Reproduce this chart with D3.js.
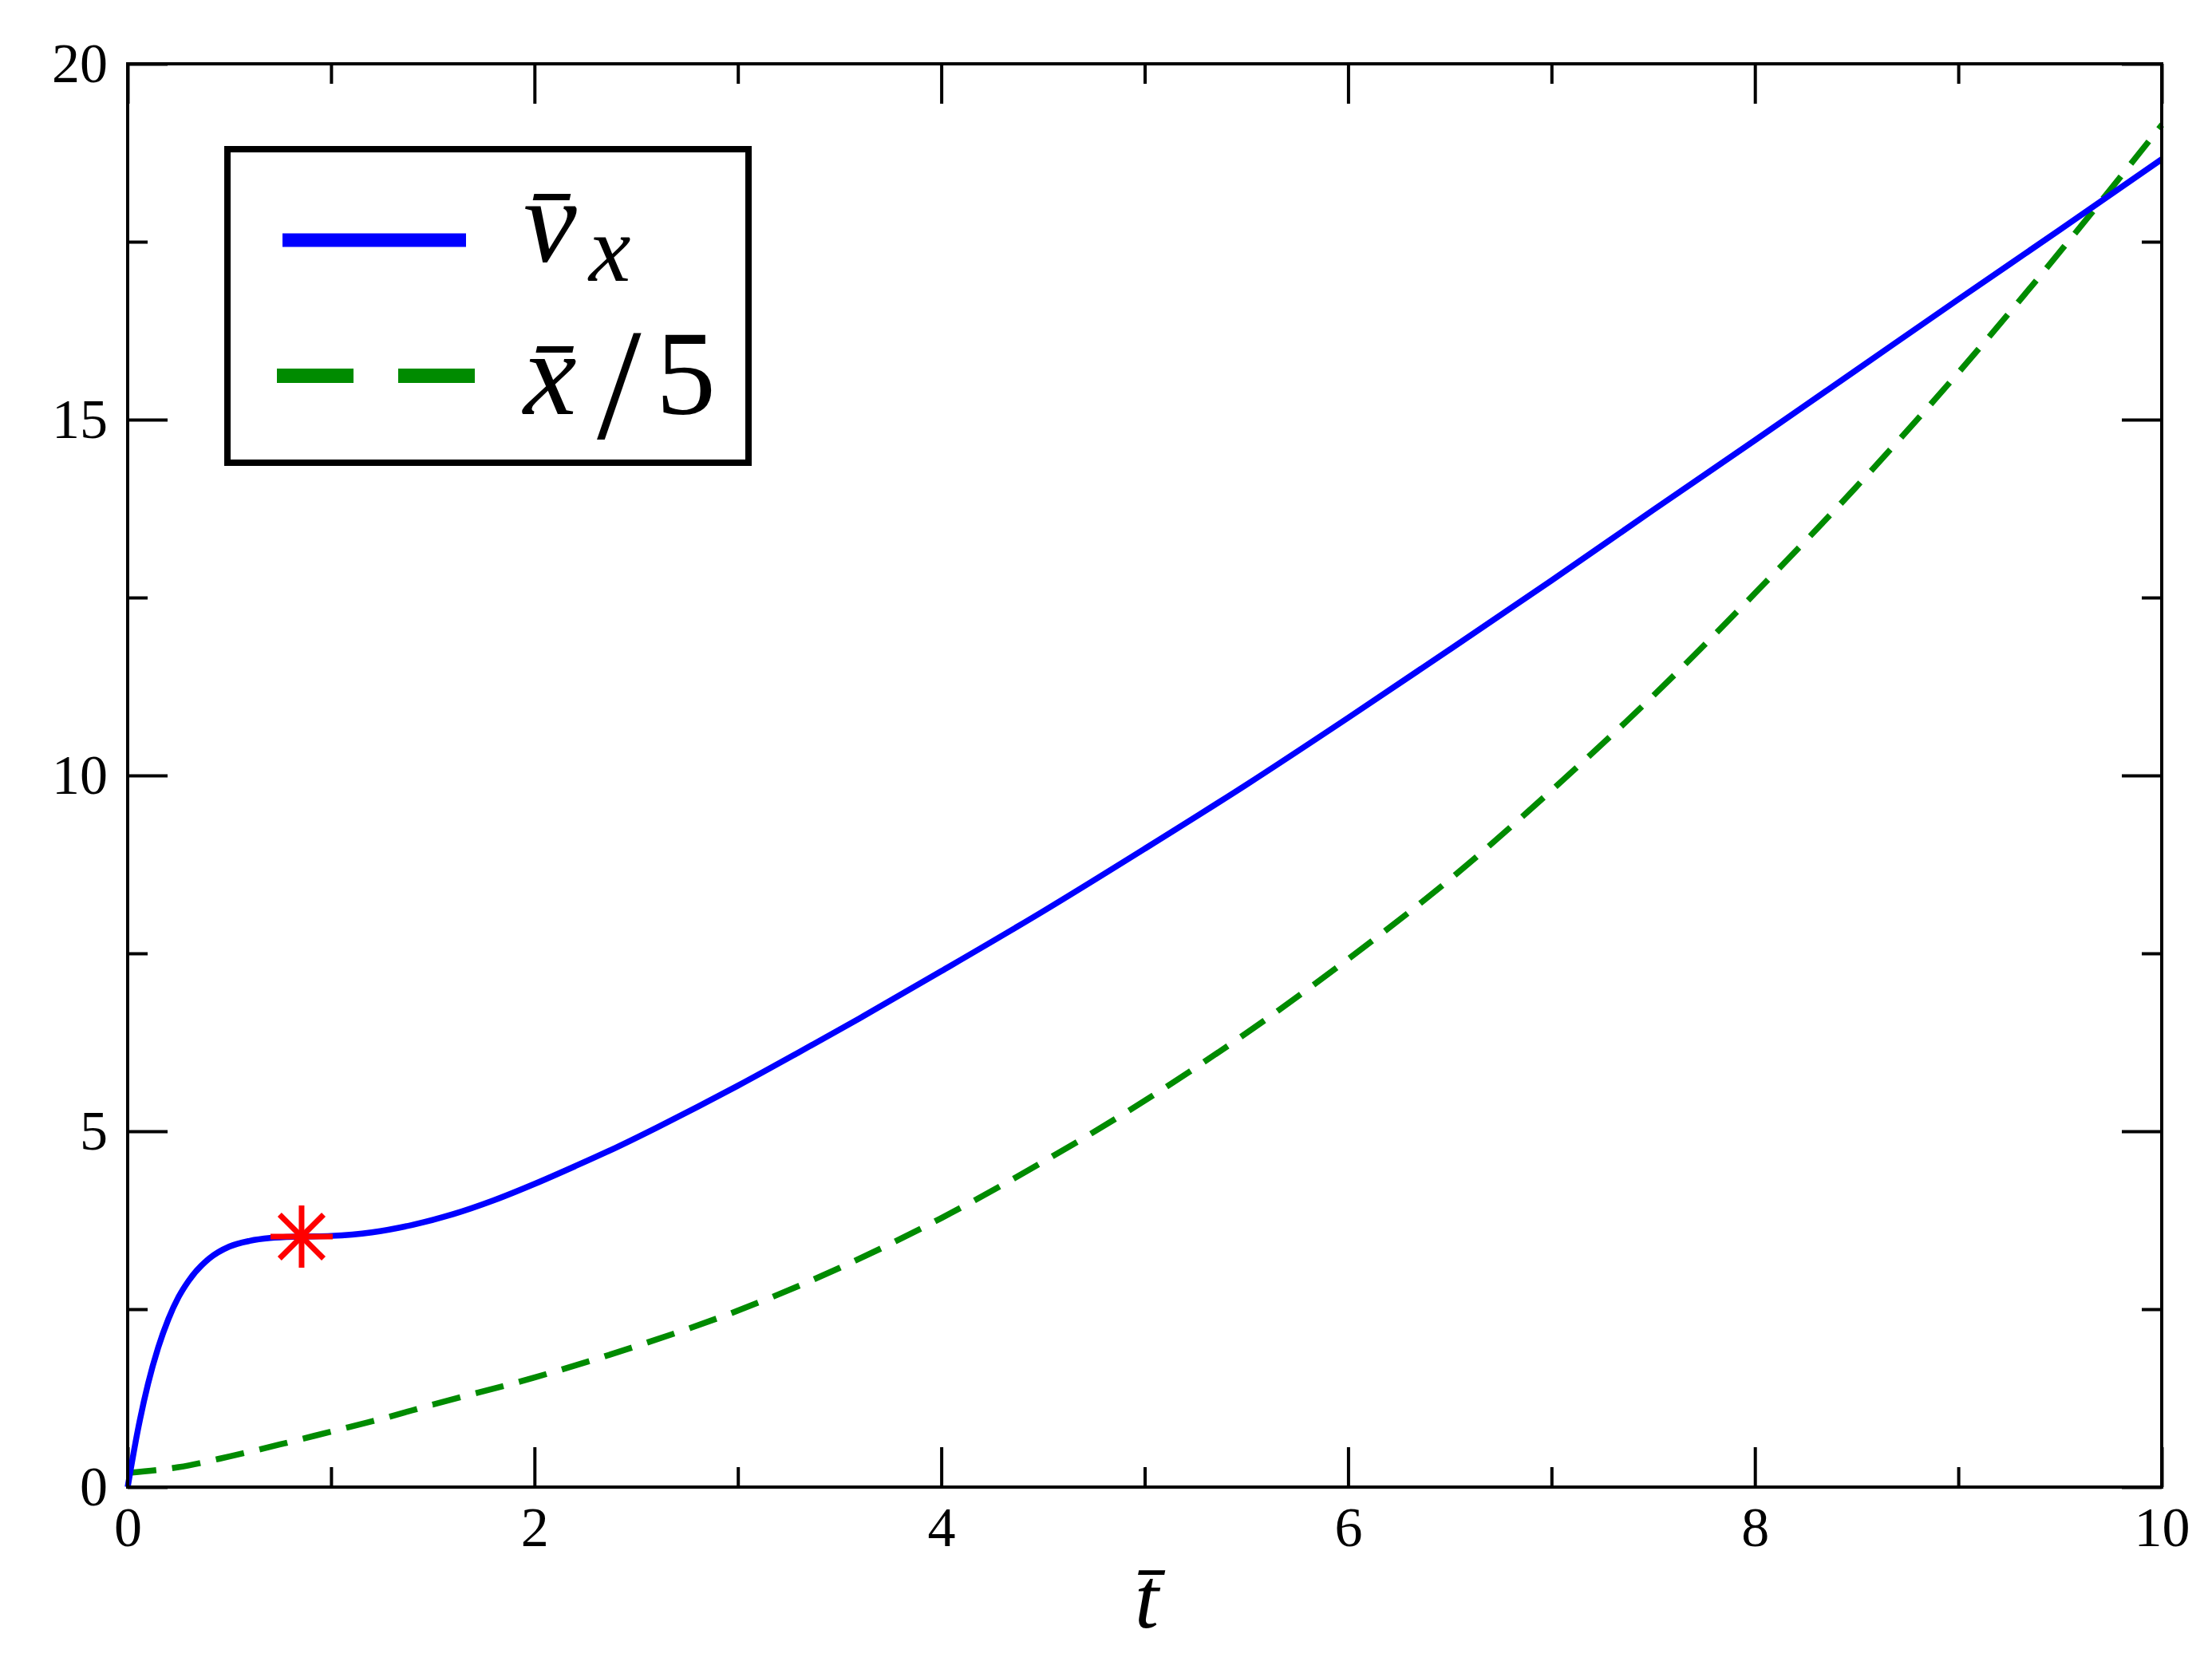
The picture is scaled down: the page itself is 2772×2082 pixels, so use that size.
<!DOCTYPE html>
<html>
<head>
<meta charset="utf-8">
<script src="https://cdn.jsdelivr.net/npm/d3@7"></script>
<style>
  html, body { margin: 0; padding: 0; background: #fff; }
  svg { display: block; }
  text { font-family: "Liberation Serif", "Times New Roman", serif; }
</style>
</head>
<body>
<svg id="chart" width="2772" height="2082"></svg>
<script>
// ---- data ----
const tVx = [0,0.05,0.1,0.15,0.2,0.25,0.3,0.4,0.5,0.6,0.7,0.85,1.0,1.2,1.4,1.6,1.8,2.0,2.2,2.4,2.6,2.8,3.0,3.3,3.6,4.0,4.5,5.0,5.5,6.0,6.5,7.0,7.5,8.0,8.5,9.0,9.5,10];
const vx  = [0,0.80,1.45,1.96,2.36,2.67,2.90,3.21,3.38,3.46,3.50,3.52,3.53,3.58,3.685,3.835,4.03,4.26,4.51,4.77,5.05,5.34,5.64,6.11,6.59,7.25,8.09,8.97,9.87,10.81,11.77,12.74,13.73,14.71,15.70,16.69,17.67,18.66];
const tX  = [0,0.25,0.5,0.75,1.0,1.25,1.5,2.0,2.5,3.0,3.5,4.0,4.5,5.0,5.5,6.0,6.5,7.0,7.5,8.0,8.5,9.0,9.5,10];
const xOver5 = [0.20,0.28,0.43,0.60,0.78,0.96,1.16,1.54,1.98,2.48,3.08,3.78,4.57,5.43,6.38,7.42,8.54,9.79,11.12,12.56,14.06,15.66,17.36,19.14];
const markerT = [0.855];
const markerV = [3.52];
const xMajorTicks = [0,2,4,6,8,10];
const xMinorTicks = [1,3,5,7,9];
const yMajorTicks = [0,5,10,15,20];
const yMinorTicks = [2.5,7.5,12.5,17.5];
const legendLabels = ["v\u0304", "x", "x\u0304", "/", "5"];
const xLabel = "t\u0304";

// ---- layout ----
const L = 160, R = 2709, T = 80, B = 1864;
const svg = d3.select("#chart");
const x = d3.scaleLinear().domain([0,10]).range([L,R]);
const y = d3.scaleLinear().domain([0,20]).range([B,T]);

const fs = 70;
function styleAxis(g){
  g.select(".domain").remove();
  g.selectAll(".tick line").attr("stroke","#000").attr("stroke-width",4);
  g.selectAll(".tick text").attr("font-family","Liberation Serif").attr("font-size",fs).attr("fill","#000");
}
// bottom
svg.append("g").attr("transform",`translate(0,${B})`)
  .call(d3.axisBottom(x).tickValues(xMajorTicks).tickSize(-50).tickSizeOuter(0).tickPadding(24).tickFormat(d3.format("d")))
  .call(styleAxis);
svg.append("g").attr("transform",`translate(0,${B})`)
  .call(d3.axisBottom(x).tickValues(xMinorTicks).tickSize(-25).tickSizeOuter(0).tickFormat(""))
  .call(styleAxis);
// top
svg.append("g").attr("transform",`translate(0,${T})`)
  .call(d3.axisTop(x).tickValues(xMajorTicks).tickSize(-50).tickSizeOuter(0).tickFormat(""))
  .call(styleAxis);
svg.append("g").attr("transform",`translate(0,${T})`)
  .call(d3.axisTop(x).tickValues(xMinorTicks).tickSize(-25).tickSizeOuter(0).tickFormat(""))
  .call(styleAxis);
// left
svg.append("g").attr("transform",`translate(${L},0)`)
  .call(d3.axisLeft(y).tickValues(yMajorTicks).tickSize(-50).tickSizeOuter(0).tickPadding(25).tickFormat(d3.format("d")))
  .call(styleAxis);
svg.append("g").attr("transform",`translate(${L},0)`)
  .call(d3.axisLeft(y).tickValues(yMinorTicks).tickSize(-25).tickSizeOuter(0).tickFormat(""))
  .call(styleAxis);
// right
svg.append("g").attr("transform",`translate(${R},0)`)
  .call(d3.axisRight(y).tickValues(yMajorTicks).tickSize(-50).tickSizeOuter(0).tickFormat(""))
  .call(styleAxis);
svg.append("g").attr("transform",`translate(${R},0)`)
  .call(d3.axisRight(y).tickValues(yMinorTicks).tickSize(-25).tickSizeOuter(0).tickFormat(""))
  .call(styleAxis);

// curves
const lineV = d3.line().x((d,i)=>x(tVx[i])).y(d=>y(d)).curve(d3.curveMonotoneX);
const lineX = d3.line().x((d,i)=>x(tX[i])).y(d=>y(d)).curve(d3.curveMonotoneX);
svg.append("path").datum(xOver5).attr("d",lineX)
  .attr("fill","none").attr("stroke","#008b00").attr("stroke-width",7.5)
  .attr("stroke-dasharray","36,20");
svg.append("path").datum(vx).attr("d",lineV)
  .attr("fill","none").attr("stroke","#0000ff").attr("stroke-width",7.5);

// frame
svg.append("rect").attr("x",L).attr("y",T).attr("width",R-L).attr("height",B-T)
  .attr("fill","none").attr("stroke","#000").attr("stroke-width",4);

// star marker
const star = svg.append("g");
markerT.forEach((t,i)=>{
  const cx = x(t), cy = y(markerV[i]), r = 39;
  for (let k=0;k<4;k++){
    const a = k*Math.PI/4;
    star.append("line")
      .attr("x1",cx - r*Math.cos(a)).attr("y1",cy - r*Math.sin(a))
      .attr("x2",cx + r*Math.cos(a)).attr("y2",cy + r*Math.sin(a))
      .attr("stroke","#ff0000").attr("stroke-width",7);
  }
});

// legend
const lg = svg.append("g");
lg.append("rect").attr("x",285).attr("y",187).attr("width",653).attr("height",393)
  .attr("fill","#fff").attr("stroke","#000").attr("stroke-width",8);
lg.append("line").attr("x1",354).attr("x2",584).attr("y1",301).attr("y2",301)
  .attr("stroke","#0000ff").attr("stroke-width",17);
lg.append("line").attr("x1",347).attr("x2",596).attr("y1",471).attr("y2",471)
  .attr("stroke","#008b00").attr("stroke-width",18).attr("stroke-dasharray","96,56");
const t1 = lg.append("text").attr("x",656).attr("y",328).attr("font-size",150).attr("font-style","italic");
t1.append("tspan").text(legendLabels[0]);
t1.append("tspan").attr("x",738).attr("dy",24).attr("font-size",118).text(legendLabels[1]);
const t2 = lg.append("text").attr("x",656).attr("y",519).attr("font-size",150);
t2.append("tspan").attr("font-style","italic").text(legendLabels[2]);
t2.append("tspan").attr("x",748).attr("dy",30).attr("font-size",200).text(legendLabels[3]);
t2.append("tspan").attr("x",822).attr("dy",-30).text(legendLabels[4]);

// x label
svg.append("text").attr("x",1437).attr("y",2040).attr("text-anchor","middle")
  .attr("font-size",108).attr("font-style","italic").text(xLabel);
</script>
</body>
</html>
